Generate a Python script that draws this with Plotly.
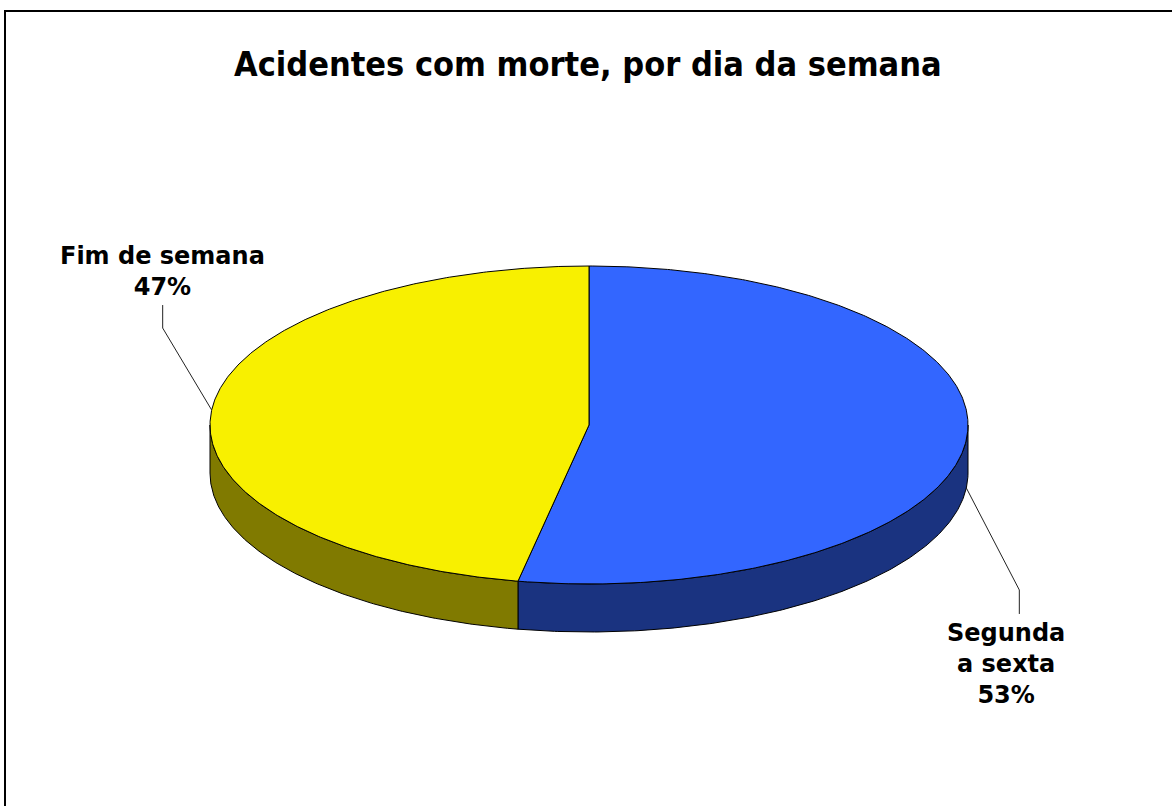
import numpy as np
import plotly.graph_objects as go

# ---- data ----
categories = ["Segunda a sexta", "Fim de semana"]
values = [53, 47]
label_lines = [["Segunda", "a sexta"], ["Fim de semana"]]
title_text = "Acidentes com morte, por dia da semana"

# ---- style / layout ----
top_colors = ["#3366FF", "#F8F000"]
side_colors = ["#1A3380", "#807A00"]
W, H = 1172, 806
cx, cy, rx, ry, depth = 589, 425, 379, 159, 48

def pt(theta_deg, dy=0.0):
    t = np.radians(theta_deg)
    return cx + rx * np.sin(t), cy - ry * np.cos(t) + dy

fig = go.Figure()

total = sum(values)
angles = []
a = 0.0
for v in values:
    a1 = a + 360.0 * v / total
    angles.append((a, a1))
    a = a1

# side walls (front half: 90..270 deg clockwise from top)
for i, (a0, a1) in enumerate(angles):
    s0, s1 = max(a0, 90), min(a1, 270)
    if s1 <= s0:
        continue
    th = np.linspace(s0, s1, 200)
    xt, yt = pt(th)
    xb, yb = pt(th[::-1], depth)
    xs = np.concatenate([xt, xb, xt[:1]])
    ys = np.concatenate([yt, yb, yt[:1]])
    fig.add_trace(go.Scatter(x=xs, y=ys, mode="lines", fill="toself",
                             fillcolor=side_colors[i],
                             line=dict(color="black", width=1),
                             hoverinfo="skip", showlegend=False))

# top faces
for i, (a0, a1) in enumerate(angles):
    th = np.linspace(a0, a1, 400)
    xt, yt = pt(th)
    xs = np.concatenate([[cx], xt, [cx]])
    ys = np.concatenate([[cy], yt, [cy]])
    fig.add_trace(go.Scatter(x=xs, y=ys, mode="lines", fill="toself",
                             fillcolor=top_colors[i],
                             line=dict(color="black", width=1),
                             hoverinfo="skip", showlegend=False))

# leader lines and labels
elbows = [(53, 102, 24), (-49, -82, -23)]   # dx, dy to elbow, then vertical dy
label_offsets = [(-13, 50), (0, -34)]       # label centre relative to leader end
font = dict(family="DejaVu Sans", size=24, color="black")
for i, (a0, a1) in enumerate(angles):
    mid = (a0 + a1) / 2
    front = 90 <= mid <= 270
    x0, y0 = pt(mid, depth if front else 0)
    dx, dy, vy = elbows[i]
    x1, y1 = x0 + dx, y0 + dy
    x2, y2 = x1, y1 + vy
    fig.add_trace(go.Scatter(x=[x0, x1, x2], y=[y0, y1, y2], mode="lines",
                             line=dict(color="#222222", width=1),
                             hoverinfo="skip", showlegend=False))
    pct = round(100 * values[i] / total)
    text = "<br>".join(["<b>%s</b>" % s for s in label_lines[i]] + ["<b>%d%%</b>" % pct])
    ox, oy = label_offsets[i]
    fig.add_annotation(x=x2 + ox, y=y2 + oy, text=text, showarrow=False,
                       xref="x", yref="y", align="center",
                       xanchor="center", yanchor="middle", font=font)

fig.add_annotation(x=588, y=64, xref="x", yref="y", text="<b>%s</b>" % title_text,
                   showarrow=False, xanchor="center", yanchor="middle",
                   font=dict(family="DejaVu Sans Condensed, DejaVu Sans", size=34, color="black"))

fig.add_shape(type="rect", xref="x", yref="y", x0=5, y0=11, x1=W + 20, y1=H + 20,
              line=dict(color="black", width=2), fillcolor="rgba(0,0,0,0)")

fig.update_layout(width=W, height=H, margin=dict(l=0, r=0, t=0, b=0),
                  paper_bgcolor="white", plot_bgcolor="white",
                  xaxis=dict(range=[0, W], visible=False, fixedrange=True),
                  yaxis=dict(range=[H, 0], visible=False, fixedrange=True))

fig.write_html("out.html", config={"displayModeBar": False},
               post_script="document.body.style.margin='0';document.body.style.overflow='hidden';")
